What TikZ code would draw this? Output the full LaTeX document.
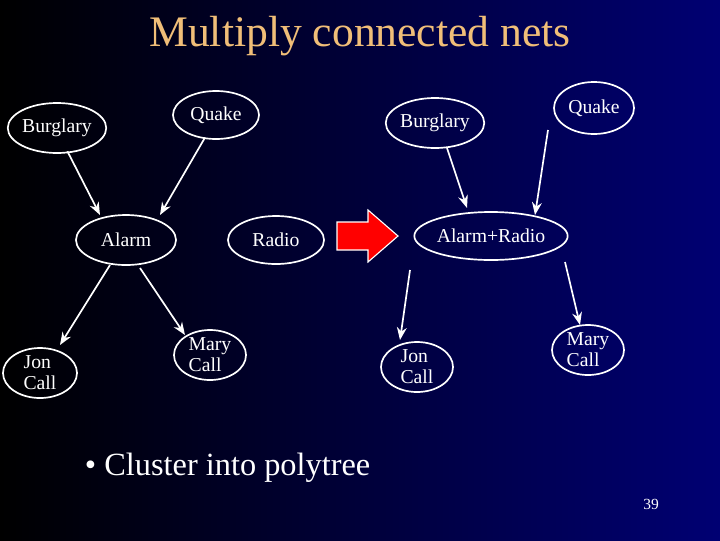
\documentclass[tikz,border=0pt]{standalone}
\usepackage{fontspec}
\setmainfont{Liberation Serif}
\usetikzlibrary{shapes.geometric,arrows.meta}
\begin{document}
\begin{tikzpicture}[x=0.025cm,y=-0.025cm,
  el/.style={ellipse,draw=white,line width=1.2pt,inner sep=0pt,text=white,font=\fontsize{14}{15}\selectfont,align=left},
  ar/.style={draw=white,line width=1.2pt,-{Stealth[length=9pt,width=7pt]}}]
\shade[left color=black,right color=blue!45!black] (0,0) rectangle (720,540);
\useasboundingbox (0,0) rectangle (720,540);
\node[text={rgb,255:red,240;green,190;blue,120},font=\fontsize{31}{33}\selectfont] (t) at (360,36) {Multiply connected nets};
\node[el,minimum width=2.4cm,minimum height=1.25cm] (b1) at (57,128) {Burglary};
\node[el,minimum width=2.15cm,minimum height=1.2cm] (q1) at (216,115) {Quake};
\node[el,minimum width=2.5cm,minimum height=1.25cm] (a1) at (126,240) {Alarm};
\node[el,minimum width=2.4cm,minimum height=1.2cm] (r1) at (276,240) {Radio};
\node[el,minimum width=1.85cm,minimum height=1.25cm] (j1) at (40,373) {Jon\\Call};
\node[el,minimum width=1.8cm,minimum height=1.25cm] (m1) at (210,355) {Mary\\Call};
\node[el,minimum width=2.4cm,minimum height=1.25cm] (b2) at (435,123) {Burglary};
\node[el,minimum width=2cm,minimum height=1.3cm] (q2) at (594,108) {Quake};
\node[el,minimum width=2.9cm,minimum height=1.2cm] (a2) at (491,236) {Alarm+Radio};
\node[el,minimum width=1.8cm,minimum height=1.25cm] (j2) at (417,367) {Jon\\Call};
\node[el,minimum width=1.8cm,minimum height=1.25cm] (m2) at (588,350) {Mary\\Call};
\coordinate (ra) at (337,236);
\draw[draw=white,fill=red,line width=0.8pt] (ra) ++(0,-14) -- ++(31,0) -- ++(0,-12) -- ++(30,26) -- ++(-30,26) -- ++(0,-12) -- ++(-31,0) -- cycle;
\draw[ar] (b1.south east)+(-25,5) coordinate (c1) -- (100,215) coordinate (d1);
\draw[ar] (q1.south west)+(20,5) coordinate (c2) -- (160,215) coordinate (d2);
\draw[ar] (a1)+(-16,25) coordinate (c3) -- (60,345) coordinate (d3);
\draw[ar] (a1)+(14,28) coordinate (c4) -- (185,335) coordinate (d4);
\draw[ar] (b2)+(12,25) coordinate (c5) -- (467,208) coordinate (d5);
\draw[ar] (q2)+(-46,22) coordinate (c6) -- (535,215) coordinate (d6);
\draw[ar] (a2)+(-81,34) coordinate (c7) -- (400,340) coordinate (d7);
\draw[ar] (a2)+(74,26) coordinate (c8) -- (580,325) coordinate (d8);
\node[text=white,font=\fontsize{23}{25}\selectfont,anchor=west] (bl) at (80,468) {\textbullet\ Cluster into polytree};
\node[text=white,font=\fontsize{11}{12}\selectfont] (pg) at (651,504) {39};
\end{tikzpicture}
\end{document}
